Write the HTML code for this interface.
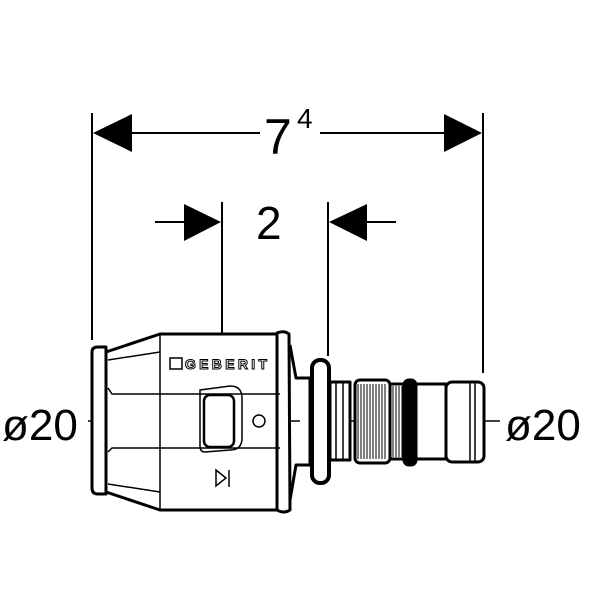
<!DOCTYPE html>
<html><head><style>body{margin:0;background:#fff}</style></head><body>
<svg width="600" height="600" viewBox="0 0 600 600" xmlns="http://www.w3.org/2000/svg" font-family="Liberation Sans, sans-serif">
<g stroke="#000" stroke-width="2" fill="none">
<line x1="92" y1="113" x2="92" y2="340"/>
<line x1="483" y1="113" x2="483" y2="373"/>
<line x1="222" y1="202" x2="222" y2="420"/>
<line x1="328" y1="202" x2="328" y2="356"/>
<line x1="130" y1="133" x2="260" y2="133"/>
<line x1="320" y1="133" x2="446" y2="133"/>
<line x1="155" y1="222" x2="185" y2="222"/>
<line x1="365" y1="222" x2="396" y2="222"/>
</g>
<g fill="#000">
<polygon points="93,133 132,114 132,152"/>
<polygon points="482,133 444,114 444,152"/>
<polygon points="221,222 184,204 184,241"/>
<polygon points="329,222 367,204 367,241"/>
</g>
<text x="264" y="154" font-size="50">7</text>
<text x="297" y="128" font-size="28">4</text>
<text x="256" y="239" font-size="46">2</text>
<text x="2" y="440" font-size="44">ø20</text>
<text x="505" y="440" font-size="44">ø20</text>
<g stroke="#000" stroke-width="1.5">
<line x1="88" y1="421" x2="100" y2="421"/><line x1="110" y1="421" x2="130" y2="421"/><line x1="140" y1="421" x2="300" y2="421"/>
<line x1="310" y1="421" x2="320" y2="421"/><line x1="330" y1="421" x2="500" y2="421"/>
</g>
<g stroke="#000" stroke-width="3" fill="none" stroke-linejoin="round">
<path d="M92,352 Q92,347 98,347 L106,347 L106,494 L98,494 Q92,494 92,488 Z" fill="#fff"/>
<path d="M106,352 L160,334 L280,334 L280,510 L160,510 L106,492 Z" fill="#fff"/>
<path d="M277,333 Q284,330 289,334 L290,510 Q284,514 277,510 Z" fill="#fff"/>
<path d="M290,345 L296,378 L310,378 L310,465 L296,465 L290,500" />
<rect x="312" y="360" width="17" height="123" rx="8" fill="#fff" stroke-width="4"/>
<rect x="330" y="382" width="20" height="78" fill="#fff"/>
<rect x="355" y="380" width="35" height="83" rx="5" fill="#fff"/>
<rect x="390" y="384" width="14" height="75" fill="#fff"/>
<rect x="404" y="380" width="12" height="85" rx="5" fill="#000"/>
<rect x="416" y="384" width="30" height="75" fill="#fff"/>
<rect x="446" y="382" width="38" height="80" rx="6" fill="#fff"/>
</g>
<g stroke="#000" stroke-width="1.5" fill="none">
<line x1="160" y1="334" x2="160" y2="510"/>
<line x1="108" y1="360" x2="160" y2="352"/>
<line x1="108" y1="484" x2="160" y2="492"/>
<path d="M108,388 L112,394 L280,394"/>
<path d="M108,452 L112,448 L280,448"/>
<path d="M200,390 L230,386 Q242,386 242,398 L242,438 Q242,450 230,450 L205,452 Q200,452 200,446 Z"/>
<rect x="204" y="395" width="30" height="52" rx="6" stroke-width="2.5"/>
<circle cx="259" cy="421" r="6"/>
<rect x="170" y="358" width="12" height="11"/>
<line x1="336" y1="382" x2="336" y2="460"/><line x1="343" y1="382" x2="343" y2="460"/>
<line x1="470" y1="382" x2="470" y2="462"/><line x1="475" y1="382" x2="475" y2="462"/>
<polygon points="216,470 226,478 216,486"/><line x1="229" y1="470" x2="229" y2="487"/>
</g>
<g stroke="#000" stroke-width="1">
<path d="M358,384V459M361,384V459M364,384V459M367,384V459M370,384V459M373,384V459M376,384V459M379,384V459M382,384V459M385,384V459"/>
<path d="M393,386V457M396,386V457M399,386V457M402,386V457"/>
</g>
<text x="185" y="369" font-size="14" font-weight="bold" fill="#fff" stroke="#000" stroke-width="1" textLength="82">GEBERIT</text>
</svg>
</body></html>
